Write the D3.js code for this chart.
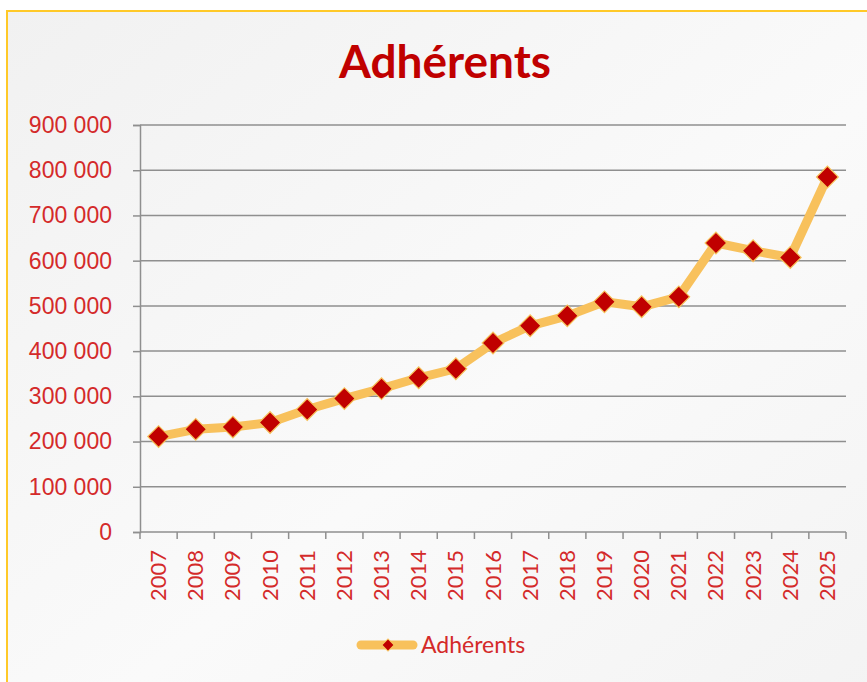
<!DOCTYPE html>
<html>
<head>
<meta charset="utf-8">
<script src="https://cdn.jsdelivr.net/npm/d3@7"></script>
<style>
	html, body { margin: 0; padding: 0; background: #ffffff; }
	svg { display: block; font-family: Lato, 'Open Sans', sans-serif; }
</style>
</head>
<body>
<div id="chart"></div>
<script>
const years = ['2007', '2008', '2009', '2010', '2011', '2012', '2013', '2014', '2015', '2016',
	'2017', '2018', '2019', '2020', '2021', '2022', '2023', '2024', '2025']
const adherents = [211000, 227000, 232000, 242000, 271000, 295000, 317000, 341000, 361000, 418000,
	456000, 478000, 509000, 498000, 520000, 639000, 622000, 607000, 785000]
const yTicks = [0, 100000, 200000, 300000, 400000, 500000, 600000, 700000, 800000, 900000]
const title = 'Adhérents'

const width = 867
const height = 682
const margin = { top: 125, right: 21, bottom: 150, left: 140 }
const red = '#c00000'
const labelRed = '#d42a2a'
const lineColor = '#f8c15c'

const svg = d3.select('#chart')
	.append('svg')
	.attr('width', width)
	.attr('height', height)

const defs = svg.append('defs')
const grad = defs.append('linearGradient')
	.attr('id', 'bg')
	.attr('x1', '0%').attr('y1', '0%')
	.attr('x2', '100%').attr('y2', '100%')
grad.append('stop').attr('offset', '0%').attr('stop-color', '#f1f1f1')
grad.append('stop').attr('offset', '55%').attr('stop-color', '#fafafa')
grad.append('stop').attr('offset', '100%').attr('stop-color', '#f3f3f3')

// chart frame, runs past the right and bottom edges
svg.append('rect')
	.attr('x', 7)
	.attr('y', 11)
	.attr('width', width + 20)
	.attr('height', height + 20)
	.attr('fill', 'url(#bg)')
	.attr('stroke', '#ffc928')
	.attr('stroke-width', 2)

svg.append('text')
	.attr('x', 445)
	.attr('y', 78)
	.attr('text-anchor', 'middle')
	.style('font-size', '46px')
	.style('font-weight', 'bold')
	.style('fill', red)
	.text(title)

const x = d3.scaleBand()
	.domain(years)
	.range([margin.left, width - margin.right])

const y = d3.scaleLinear()
	.domain([0, 900000])
	.range([height - margin.bottom, margin.top])

const fmt = d3.formatLocale({ decimal: ',', thousands: ' ', grouping: [3], currency: ['', '€'] }).format(',')

// gridlines
svg.append('g')
	.selectAll('line')
	.data(yTicks.slice(1))
	.join('line')
	.attr('x1', margin.left)
	.attr('x2', width - margin.right)
	.attr('y1', d => y(d))
	.attr('y2', d => y(d))
	.attr('stroke', '#8f8f8f')
	.attr('stroke-width', 1.5)

// y axis
const yAxis = svg.append('g')
	.attr('transform', `translate(${margin.left},0)`)
	.call(d3.axisLeft(y).tickValues(yTicks).tickFormat(fmt).tickSize(7).tickPadding(21))
yAxis.select('.domain').attr('stroke', '#8f8f8f').attr('stroke-width', 1.5)
yAxis.selectAll('.tick line').attr('stroke', '#8f8f8f').attr('stroke-width', 1.5)
yAxis.selectAll('.tick text')
	.style('font-size', '23px')
	.style('fill', labelRed)
	.attr('font-family', null)

// x axis: ticks sit between categories
const xg = svg.append('g')
	.attr('transform', `translate(0,${y(0)})`)
xg.append('line')
	.attr('x1', margin.left)
	.attr('x2', width - margin.right)
	.attr('stroke', '#8f8f8f')
	.attr('stroke-width', 1.5)
xg.selectAll('.edge')
	.data(years.map(d => x(d)).concat([x(years[years.length - 1]) + x.bandwidth()]))
	.join('line')
	.attr('class', 'edge')
	.attr('x1', d => d)
	.attr('x2', d => d)
	.attr('y1', 0)
	.attr('y2', 7)
	.attr('stroke', '#8f8f8f')
	.attr('stroke-width', 1.5)
xg.selectAll('text')
	.data(years)
	.join('text')
	.attr('transform', d => `translate(${x(d) + x.bandwidth() / 2 + 7.5},18) rotate(-90)`)
	.attr('text-anchor', 'end')
	.style('font-size', '22px')
	.style('fill', labelRed)
	.text(d => d)

// series
const cx = d => x(d) + x.bandwidth() / 2
const points = years.map((d, i) => [cx(d), y(adherents[i])])

svg.append('path')
	.attr('d', d3.line()(points))
	.attr('fill', 'none')
	.attr('stroke', lineColor)
	.attr('stroke-width', 9)
	.attr('stroke-linejoin', 'round')
	.attr('stroke-linecap', 'round')

const diamond = d3.symbol().type(d3.symbolSquare).size(235)

svg.append('g')
	.selectAll('path')
	.data(points)
	.join('path')
	.attr('d', diamond)
	.attr('transform', d => `translate(${d[0]},${d[1]}) rotate(45)`)
	.attr('fill', red)
	.attr('stroke', '#f6c25a')
	.attr('stroke-width', 1.2)

// legend
const legend = svg.append('g').attr('transform', 'translate(357,645)')
legend.append('line')
	.attr('x1', 4)
	.attr('x2', 56)
	.attr('stroke', lineColor)
	.attr('stroke-width', 9)
	.attr('stroke-linecap', 'round')
legend.append('path')
	.attr('d', d3.symbol().type(d3.symbolSquare).size(75))
	.attr('transform', 'translate(31,0) rotate(45)')
	.attr('fill', red)
	.attr('stroke', '#f6c25a')
	.attr('stroke-width', 1)
legend.append('text')
	.attr('x', 64)
	.attr('y', 8)
	.style('font-size', '23px')
	.style('fill', labelRed)
	.text(title)
</script>
</body>
</html>
